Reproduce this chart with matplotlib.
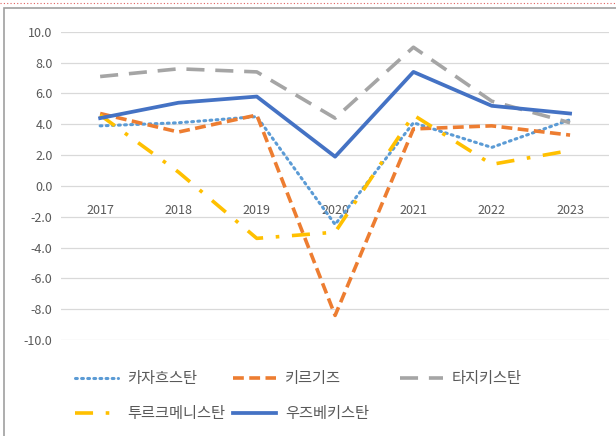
import matplotlib.pyplot as plt
from matplotlib.lines import Line2D
from matplotlib.patches import Rectangle

plt.rcParams['font.family'] = ['Noto Sans CJK KR', 'DejaVu Sans']

years = ['2017', '2018', '2019', '2020', '2021', '2022', '2023']
kazakhstan = [3.9, 4.1, 4.5, -2.5, 4.1, 2.5, 4.3]
kyrgyzstan = [4.7, 3.5, 4.6, -8.4, 3.7, 3.9, 3.3]
tajikistan = [7.1, 7.6, 7.4, 4.4, 9.0, 5.5, 4.1]
turkmenistan = [4.6, 0.9, -3.4, -3.0, 4.6, 1.4, 2.3]
uzbekistan = [4.4, 5.4, 5.8, 1.9, 7.4, 5.2, 4.7]
names = ['카자흐스탄', '키르기즈', '타지키스탄', '투르크메니스탄', '우즈베키스탄']

W, H = 616, 436
fig = plt.figure(figsize=(W / 100, H / 100), dpi=100)
ax = fig.add_axes([0.099, 0.22, 0.89, 0.707])

x = range(len(years))
lines = []
lines += ax.plot(x, kazakhstan, color='#5B9BD5', lw=2.2, linestyle=(0, (0.6, 1.4)),
                 dash_capstyle='round')
lines += ax.plot(x, kyrgyzstan, color='#ED7D31', lw=2.6, linestyle=(0, (3, 1.5)))
lines += ax.plot(x, tajikistan, color='#A5A5A5', lw=2.6, linestyle=(0, (5, 3)))
lines += ax.plot(x, turkmenistan, color='#FFC000', lw=2.6, linestyle=(0, (5, 3.5, 1, 3.5)))
lines += ax.plot(x, uzbekistan, color='#4472C4', lw=2.7)

ax.set_xlim(-0.5, len(years) - 0.5)
ax.set_ylim(-10, 10)
ax.set_yticks(range(-10, 11, 2))
ax.set_yticklabels([f'{v:.1f}' for v in range(-10, 11, 2)])
ax.set_xticks(list(x))
ax.set_xticklabels(years)
ax.grid(axis='y', color='#D9D9D9', lw=0.9)
ax.set_axisbelow(True)
for s in ax.spines.values():
    s.set_visible(False)
ax.spines['bottom'].set_position(('data', 0))
ax.tick_params(axis='both', length=0, labelsize=9, colors='#595959')
ax.tick_params(axis='x', pad=13)
ax.tick_params(axis='y', pad=6)

# legend laid out in fixed columns like the original (one legend per column)
columns = [([0, 3], 75), ([1, 4], 233), ([2], 400)]
for idx, xpx in columns:
    fig.legend([lines[i] for i in idx], [names[i] for i in idx],
               loc='upper left', bbox_to_anchor=(xpx / W, 1 - 370 / H),
               frameon=False, fontsize=11, labelcolor='#595959',
               handlelength=2.8, handletextpad=0.6, labelspacing=1.2,
               borderpad=0, borderaxespad=0)

fig.patches.append(Rectangle((4 / W, -0.1), 1.2, 1.1 - 8 / H, transform=fig.transFigure,
                             fill=False, edgecolor='#A0A0A0', lw=1.2))
fig.lines.append(Line2D([0, 1], [1 - 3 / H] * 2, transform=fig.transFigure,
                        color='#E06060', lw=0.8, linestyle=(0, (1, 2))))

fig.savefig('out.png', dpi=100)
